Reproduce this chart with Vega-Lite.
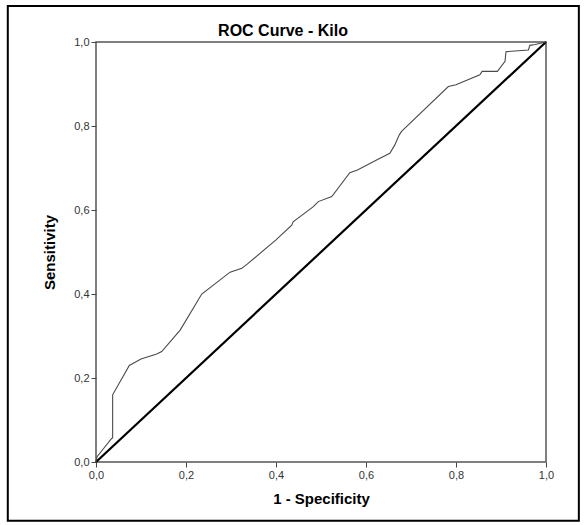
{
  "$schema": "https://vega.github.io/schema/vega-lite/v6.json",
  "width": 450,
  "height": 420,
  "autosize": "none",
  "padding": {"left": 96, "top": 42, "right": 39, "bottom": 63},
  "background": "white",
  "title": {
    "text": "ROC Curve - Kilo",
    "font": "Liberation Sans",
    "fontSize": 16,
    "fontWeight": "bold",
    "color": "black",
    "anchor": "middle",
    "dx": -38,
    "dy": 41,
    "offset": 7
  },
  "config": {
    "view": {"stroke": "#555555", "strokeWidth": 1.5},
    "axis": {
      "grid": false,
      "domain": false,
      "labelFlush": false,
      "tickColor": "#444444",
      "tickSize": 5,
      "labelFont": "Liberation Sans",
      "labelFontSize": 11,
      "labelColor": "#333333",
      "titleFont": "Liberation Sans",
      "titleFontSize": 15,
      "titleFontWeight": "bold",
      "titleColor": "black"
    }
  },
  "datasets": {
    "roc": [
      {"fpr": 0.0, "tpr": 0.0},
      {"fpr": 0.002, "tpr": 0.012},
      {"fpr": 0.016, "tpr": 0.031},
      {"fpr": 0.033, "tpr": 0.054},
      {"fpr": 0.037, "tpr": 0.058},
      {"fpr": 0.037, "tpr": 0.16},
      {"fpr": 0.074, "tpr": 0.23},
      {"fpr": 0.1, "tpr": 0.245},
      {"fpr": 0.135, "tpr": 0.257},
      {"fpr": 0.146, "tpr": 0.263},
      {"fpr": 0.187, "tpr": 0.314},
      {"fpr": 0.235, "tpr": 0.4},
      {"fpr": 0.298, "tpr": 0.452},
      {"fpr": 0.324, "tpr": 0.461},
      {"fpr": 0.336, "tpr": 0.471},
      {"fpr": 0.4, "tpr": 0.529},
      {"fpr": 0.435, "tpr": 0.564},
      {"fpr": 0.438, "tpr": 0.572},
      {"fpr": 0.483, "tpr": 0.608},
      {"fpr": 0.494, "tpr": 0.62},
      {"fpr": 0.524, "tpr": 0.632},
      {"fpr": 0.564, "tpr": 0.689},
      {"fpr": 0.581, "tpr": 0.695},
      {"fpr": 0.631, "tpr": 0.723},
      {"fpr": 0.653, "tpr": 0.735},
      {"fpr": 0.664, "tpr": 0.755},
      {"fpr": 0.674, "tpr": 0.779},
      {"fpr": 0.679, "tpr": 0.787},
      {"fpr": 0.783, "tpr": 0.894},
      {"fpr": 0.8, "tpr": 0.898},
      {"fpr": 0.853, "tpr": 0.922},
      {"fpr": 0.858, "tpr": 0.93},
      {"fpr": 0.892, "tpr": 0.93},
      {"fpr": 0.909, "tpr": 0.954},
      {"fpr": 0.911, "tpr": 0.977},
      {"fpr": 0.961, "tpr": 0.981},
      {"fpr": 0.964, "tpr": 0.992},
      {"fpr": 0.976, "tpr": 0.994},
      {"fpr": 1.0, "tpr": 1.0}
    ],
    "ref": [
      {"fpr": 0.0, "tpr": 0.0},
      {"fpr": 1.0, "tpr": 1.0}
    ]
  },
  "layer": [
    {
      "data": {"name": "ref"},
      "mark": {"type": "line", "color": "black", "strokeWidth": 2.2},
      "encoding": {
        "x": {
          "field": "fpr",
          "type": "quantitative",
          "scale": {"domain": [0, 1], "nice": false},
          "axis": {
            "title": "1 - Specificity",
            "values": [0, 0.2, 0.4, 0.6, 0.8, 1.0],
            "labelExpr": "replace(format(datum.value, '.1f'), '.', ',')",
            "titlePadding": 11
          }
        },
        "y": {
          "field": "tpr",
          "type": "quantitative",
          "scale": {"domain": [0, 1], "nice": false},
          "axis": {
            "title": "Sensitivity",
            "values": [0, 0.2, 0.4, 0.6, 0.8, 1.0],
            "labelExpr": "replace(format(datum.value, '.1f'), '.', ',')",
            "titlePadding": 16
          }
        }
      }
    },
    {
      "data": {"name": "roc"},
      "mark": {"type": "line", "color": "#4a4a4a", "strokeWidth": 1.1},
      "encoding": {
        "x": {"field": "fpr", "type": "quantitative"},
        "y": {"field": "tpr", "type": "quantitative"},
        "order": {"field": "fpr", "type": "quantitative"}
      }
    },
    {
      "data": {"values": [{"box": "frame"}]},
      "mark": {"type": "rect", "fill": null, "stroke": "black", "strokeWidth": 2, "clip": false},
      "encoding": {
        "x": {"datum": -0.196},
        "x2": {"datum": 1.073},
        "y": {"datum": 1.086},
        "y2": {"datum": -0.14}
      }
    }
  ]
}
